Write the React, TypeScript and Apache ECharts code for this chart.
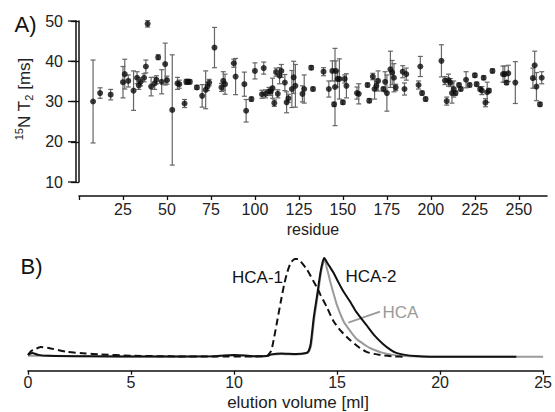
import React, { useEffect, useRef } from "react";
import * as echarts from "echarts";

// ---- Panel A: 15N T2 per residue ----
const residues = [8, 12, 18, 25, 26, 28, 31, 33, 34, 35, 37, 38, 39, 41, 43, 44, 45, 47, 49, 50, 53, 56, 57, 60, 61, 62, 63, 67, 70, 72, 73, 74, 77, 81, 82, 83, 88, 89, 94, 95, 98, 100, 104, 105, 106, 108, 109, 110, 111, 112, 113, 114, 115, 117, 118, 119, 121, 122, 123, 127, 128, 132, 133, 139, 142, 144, 145, 145.5, 146, 147, 148, 150, 151, 152, 158, 159, 164, 165, 167, 168, 169, 170, 173, 174, 175, 177, 178, 179, 180, 184, 185, 186, 193, 194, 195, 197, 206, 208, 209, 210, 211, 212, 213, 214, 216, 217, 220, 222, 225, 226, 228, 229, 230, 231, 232, 233, 235, 241, 242, 243, 244, 248, 258, 259, 260, 262, 263];
const t2 = [30.0, 32.1, 31.7, 34.8, 36.8, 35.1, 32.7, 35.9, 34.0, 34.9, 35.9, 38.7, 49.3, 33.7, 34.5, 35.4, 41.0, 34.9, 39.3, 35.3, 27.9, 34.5, 34.3, 29.5, 34.9, 34.9, 34.9, 33.5, 31.4, 32.9, 33.7, 34.7, 43.4, 33.5, 35.1, 34.3, 39.5, 36.2, 34.3, 27.7, 30.6, 37.6, 31.8, 38.3, 31.9, 32.5, 32.5, 33.3, 29.6, 37.3, 31.9, 36.4, 37.6, 34.7, 29.8, 30.8, 33.1, 36.0, 33.9, 31.9, 33.1, 38.4, 33.1, 37.4, 33.1, 37.6, 29.3, 33.6, 37.6, 35.6, 35.6, 29.8, 35.6, 33.9, 32.1, 31.9, 34.1, 30.2, 36.2, 33.1, 33.9, 35.1, 33.1, 34.9, 32.1, 38.0, 37.2, 35.9, 33.5, 37.4, 33.1, 36.8, 34.1, 38.7, 32.1, 30.6, 40.1, 35.2, 30.1, 35.3, 34.7, 32.1, 33.1, 32.1, 34.1, 33.1, 35.4, 34.1, 36.5, 34.3, 33.1, 32.7, 35.9, 29.7, 32.3, 32.7, 37.6, 36.8, 36.8, 34.7, 37.0, 34.7, 35.8, 39.0, 33.7, 29.3, 35.9];
const t2Err = [10.3, 1.3, 1.3, 3.9, 3.7, 1.5, 4.9, 1.5, 1.0, 1.0, 1.0, 1.6, 0.8, 2.3, 1.5, 1.0, 0.6, 3.0, 5.2, 1.0, 13.7, 1.5, 1.0, 1.0, 0.6, 0.6, 0.5, 0.5, 2.8, 4.7, 1.0, 0.8, 5.0, 1.0, 2.3, 2.5, 1.0, 4.5, 3.0, 2.8, 0.5, 2.0, 1.0, 1.5, 1.0, 1.0, 1.0, 2.5, 0.8, 1.0, 1.0, 2.0, 1.6, 2.0, 2.6, 1.0, 4.6, 4.0, 5.3, 2.0, 3.5, 0.5, 0.5, 1.0, 2.0, 2.5, 0.5, 9.6, 2.5, 2.0, 5.0, 0.5, 1.0, 3.0, 1.5, 2.5, 0.5, 0.5, 0.8, 2.5, 1.0, 2.5, 0.5, 2.5, 4.5, 4.5, 3.0, 3.5, 0.8, 1.5, 1.5, 1.5, 1.0, 2.5, 0.5, 0.5, 4.0, 1.0, 1.0, 1.5, 1.0, 2.5, 2.0, 0.5, 0.5, 0.5, 2.0, 0.5, 0.5, 0.5, 0.5, 1.0, 0.5, 1.0, 2.5, 0.5, 0.5, 2.0, 2.0, 0.5, 2.0, 5.2, 2.5, 3.5, 3.5, 0.5, 1.5];
const topXTicks = [0, 25, 50, 75, 100, 125, 150, 175, 200, 225, 250];
const topXLabels = [25, 50, 75, 100, 125, 150, 175, 200, 225, 250];
const topYTicks = [10, 20, 30, 40, 50];

// ---- Panel B: elution profiles (normalised absorbance) ----
const volHCA1 = [0, 0.15, 0.3, 0.6, 1.0, 1.9, 2.8, 3.5, 5.0, 7.0, 9.0, 11.0, 11.6, 11.8, 11.95, 12.11, 12.27, 12.43, 12.59, 12.75, 12.95, 13.1, 13.25, 13.55, 13.87, 14.03, 14.19, 14.51, 14.83, 15.15, 15.63, 16.11, 16.43, 16.8, 17.2, 17.8, 18.3];
const absHCA1 = [0.02, 0.06, 0.07, 0.1, 0.09, 0.05, 0.035, 0.025, 0.012, 0.005, 0.004, 0.004, 0.01, 0.06, 0.2, 0.38, 0.56, 0.73, 0.86, 0.95, 0.99, 0.99, 0.96, 0.88, 0.76, 0.7, 0.63, 0.5, 0.36, 0.27, 0.17, 0.09, 0.05, 0.03, 0.015, 0.005, 0.0];
const volHCA2 = [0, 0.2, 0.5, 1, 3, 6, 9, 9.5, 10, 10.5, 11, 11.6, 11.8, 12.3, 13.0, 13.5, 13.62, 13.72, 13.87, 14.03, 14.19, 14.3, 14.38, 14.5, 14.65, 14.83, 15.0, 15.31, 15.63, 15.95, 16.43, 16.8, 17.23, 17.6, 17.87, 18.3, 18.8, 19.5, 23.7];
const absHCA2 = [0.02, 0.04, 0.02, 0.01, 0.005, 0.003, 0.005, 0.015, 0.02, 0.015, 0.006, 0.008, 0.025, 0.035, 0.03, 0.04, 0.06, 0.13, 0.4, 0.62, 0.85, 0.96, 1.0, 0.96, 0.91, 0.85, 0.78, 0.66, 0.56, 0.45, 0.32, 0.22, 0.13, 0.07, 0.04, 0.02, 0.008, 0.002, 0.0];
const volHCA = [0, 1, 3, 6, 9, 9.5, 10, 10.5, 11, 11.6, 11.8, 12.3, 13.0, 13.5, 13.65, 13.75, 13.9, 14.06, 14.22, 14.33, 14.41, 14.5, 14.6, 14.67, 14.83, 15.0, 15.31, 15.47, 15.95, 16.43, 16.59, 17.23, 17.87, 18.5, 19.5, 25];
const absHCA = [0.01, 0.01, 0.005, 0.003, 0.005, 0.012, 0.015, 0.012, 0.006, 0.008, 0.02, 0.03, 0.025, 0.035, 0.06, 0.13, 0.4, 0.62, 0.85, 0.95, 0.98, 0.9, 0.82, 0.76, 0.64, 0.52, 0.36, 0.31, 0.18, 0.11, 0.09, 0.04, 0.015, 0.005, 0.0, 0.0];

const FONT = "Liberation Sans";

export default function App() {
  const ref = useRef<HTMLDivElement>(null);
  useEffect(() => {
    if (!ref.current) return;
    const chart = echarts.init(ref.current, null, { renderer: "svg" });
    const pts = residues.map((r, i) => [r, t2[i]]);
    const bars = residues.map((r, i) => [r, t2[i] - t2Err[i], t2[i] + t2Err[i]]);
    const zip = (xs: number[], ys: number[]) => xs.map((x, i) => [x, ys[i]]);
    const axisText = { color: "#222", fontSize: 16, fontFamily: FONT };
    const yMin = topYTicks[0];
    const yMax = topYTicks[topYTicks.length - 1];

    chart.setOption({
      animation: false,
      backgroundColor: "#fff",
      textStyle: { fontFamily: FONT },
      grid: [
        { left: 79, right: 8, top: 21, height: 161 },
        { left: 28, right: 6.5, top: 258, bottom: 41.3 },
      ],
      xAxis: [
        {
          gridIndex: 0,
          type: "value",
          min: 0,
          max: 266,
          offset: 14,
          splitLine: { show: false },
          axisLine: { show: true, onZero: false, lineStyle: { color: "#111", width: 1.5 } },
          axisTick: { show: true, length: 4, customValues: topXTicks, lineStyle: { color: "#111", width: 1.3 } },
          axisLabel: { ...axisText, margin: 5, customValues: topXLabels },
          name: "residue",
          nameLocation: "middle",
          nameGap: 25,
          nameTextStyle: { ...axisText },
        },
        {
          gridIndex: 1,
          type: "value",
          min: 0,
          max: 25,
          interval: 5,
          splitLine: { show: false },
          axisLine: { show: true, onZero: false, lineStyle: { color: "#111", width: 1.5 } },
          axisTick: { show: true, length: 4, lineStyle: { color: "#111", width: 1.3 } },
          axisLabel: { ...axisText, margin: 4 },
        },
      ],
      yAxis: [
        {
          gridIndex: 0,
          type: "value",
          min: yMin,
          max: yMax,
          interval: 10,
          offset: 3,
          splitLine: { show: false },
          axisLine: { show: true, lineStyle: { color: "#111", width: 1.5 } },
          axisTick: { show: true, inside: false, length: 8, lineStyle: { color: "#111", width: 1.3 } },
          axisLabel: { ...axisText, margin: 13 },
        },
        {
          gridIndex: 1,
          type: "value",
          min: -0.14,
          max: 1.0,
          show: false,
          splitLine: { show: false },
        },
      ],
      series: [
        {
          // y-axis rule and ticks of panel A, placed through the axis scale
          type: "custom",
          xAxisIndex: 0,
          yAxisIndex: 0,
          data: topYTicks.map((v) => [0, v]),
          silent: true,
          renderItem: (params: any, api: any) => {
            const p = api.coord([0, api.value(1)]);
            const x = p[0] - 3;
            const st = { stroke: "#111", lineWidth: 1.5 };
            const children: any[] = [
              { type: "line", shape: { x1: x - 8, y1: p[1], x2: x, y2: p[1] }, style: { stroke: "#111", lineWidth: 1.3 } },
            ];
            if (params.dataIndex === 0) {
              const top = api.coord([0, yMax]);
              children.push({ type: "line", shape: { x1: x, y1: p[1] + 0.75, x2: x, y2: top[1] - 0.75 }, style: st });
            }
            return { type: "group", children };
          },
          z: 1,
        },
        {
          type: "custom",
          xAxisIndex: 0,
          yAxisIndex: 0,
          data: bars,
          encode: { x: 0, y: [1, 2] },
          renderItem: (params: any, api: any) => {
            const x = api.value(0);
            const lo = api.coord([x, api.value(1)]);
            const hi = api.coord([x, api.value(2)]);
            const w = 2.5;
            const st = { stroke: "#666", lineWidth: 1.2 };
            return {
              type: "group",
              children: [
                { type: "line", shape: { x1: lo[0], y1: lo[1], x2: hi[0], y2: hi[1] }, style: st },
                { type: "line", shape: { x1: lo[0] - w, y1: lo[1], x2: lo[0] + w, y2: lo[1] }, style: st },
                { type: "line", shape: { x1: hi[0] - w, y1: hi[1], x2: hi[0] + w, y2: hi[1] }, style: st },
              ],
            };
          },
          z: 2,
        },
        {
          type: "scatter",
          xAxisIndex: 0,
          yAxisIndex: 0,
          data: pts,
          symbol: "circle",
          symbolSize: 6,
          itemStyle: { color: "#0d0d0d" },
          z: 3,
        },
        {
          type: "line",
          name: "HCA",
          xAxisIndex: 1,
          yAxisIndex: 1,
          data: zip(volHCA, absHCA),
          showSymbol: false,
          smooth: 0.2,
          lineStyle: { color: "#9a9a9a", width: 2 },
          z: 2,
        },
        {
          type: "line",
          name: "HCA-1",
          xAxisIndex: 1,
          yAxisIndex: 1,
          data: zip(volHCA1, absHCA1),
          showSymbol: false,
          smooth: 0.2,
          lineStyle: { color: "#111", width: 2, type: [7, 4] },
          z: 3,
        },
        {
          type: "line",
          name: "HCA-2",
          xAxisIndex: 1,
          yAxisIndex: 1,
          data: zip(volHCA2, absHCA2),
          showSymbol: false,
          smooth: 0.2,
          lineStyle: { color: "#111", width: 2 },
          z: 4,
        },
      ],
      graphic: [
        {
          type: "text",
          x: 25.5,
          y: 24.5,
          style: { text: "A)", fontSize: 22, fontFamily: FONT, fill: "#111", align: "center", verticalAlign: "middle" },
        },
        {
          type: "text",
          x: 31.5,
          y: 266.5,
          style: { text: "B)", fontSize: 22, fontFamily: FONT, fill: "#111", align: "center", verticalAlign: "middle" },
        },
        {
          type: "text",
          x: 24,
          y: 99,
          rotation: Math.PI / 2,
          style: {
            text: "{sup|15}{m|N T}{sub|2}{m| [ms]}",
            fontFamily: FONT,
            fill: "#222",
            align: "center",
            verticalAlign: "middle",
            rich: {
              m: { fontSize: 17, fontFamily: FONT, fill: "#222", lineHeight: 24, verticalAlign: "middle" },
              sup: { fontSize: 11, fontFamily: FONT, fill: "#222", lineHeight: 24, verticalAlign: "top", padding: [1, 0, 0, 0] },
              sub: { fontSize: 11, fontFamily: FONT, fill: "#222", lineHeight: 24, verticalAlign: "bottom", padding: [0, 0, 2, 0] },
            },
          },
        },
        {
          type: "text",
          x: 298,
          y: 402.5,
          style: { text: "elution volume [ml]", fontSize: 17, fontFamily: FONT, fill: "#222", align: "center", verticalAlign: "middle" },
        },
        {
          type: "text",
          x: 257.5,
          y: 277.3,
          style: { text: "HCA-1", fontSize: 17, fontFamily: FONT, fill: "#111", align: "center", verticalAlign: "middle" },
        },
        {
          type: "text",
          x: 371,
          y: 276.7,
          style: { text: "HCA-2", fontSize: 17, fontFamily: FONT, fill: "#111", align: "center", verticalAlign: "middle" },
        },
        {
          type: "text",
          x: 400.5,
          y: 312.7,
          style: { text: "HCA", fontSize: 17, fontFamily: FONT, fill: "#9a9a9a", align: "center", verticalAlign: "middle" },
        },
        {
          type: "line",
          shape: { x1: 348.3, y1: 322.7, x2: 380, y2: 311.7 },
          style: { stroke: "#9a9a9a", lineWidth: 1.8 },
        },
      ],
    });
    return () => chart.dispose();
  }, []);
  return <div ref={ref} style={{ position: "fixed", left: 0, top: 0, width: 555, height: 412 }} />;
}
